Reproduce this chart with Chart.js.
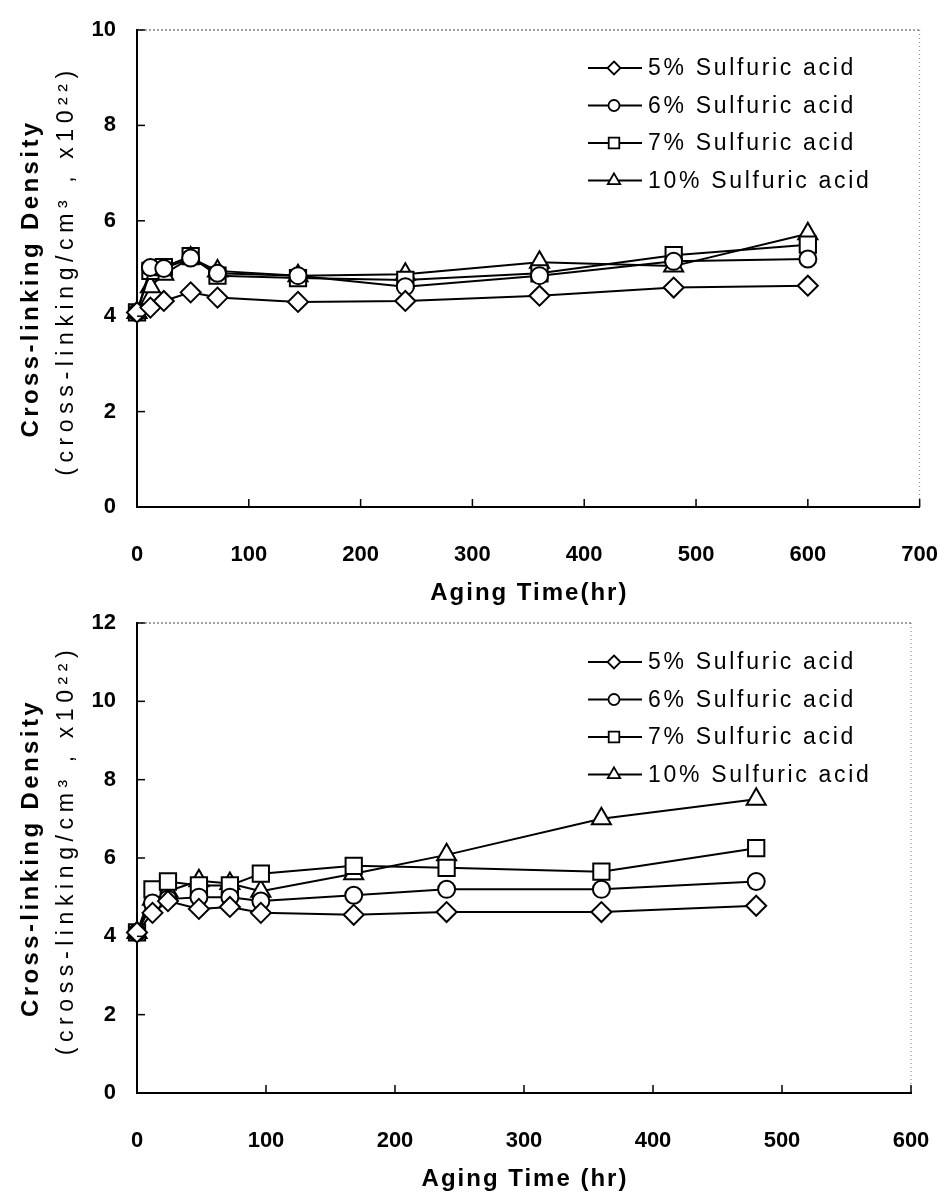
<!DOCTYPE html>
<html><head><meta charset="utf-8">
<script src="https://cdn.jsdelivr.net/npm/chart.js@4/dist/chart.umd.min.js"></script>
<style>
html,body{margin:0;padding:0;background:#fff;}
#wrap{position:relative;width:942px;height:1193px;overflow:hidden;background:#fff;}
canvas{position:absolute;left:0;}
</style></head><body>
<div id="wrap">
<canvas id="c1" width="942" height="620" style="top:0;width:942px;height:620px"></canvas>
<canvas id="c2" width="942" height="593" style="top:600px;width:942px;height:593px"></canvas>
</div>
<script>
// ---- data ----
const seriesLabels = ['5% Sulfuric acid', '6% Sulfuric acid', '7% Sulfuric acid', '10% Sulfuric acid'];
const markerStyles = ['rectRot', 'circle', 'rect', 'triangle'];

const topHours = [0, 12, 24, 48, 72, 144, 240, 360, 480, 600];
const top5  = [4.08, 4.18, 4.32, 4.50, 4.39, 4.30, 4.32, 4.43, 4.60, 4.64];
const top6  = [4.08, 5.02, 5.00, 5.22, 4.90, 4.85, 4.62, 4.85, 5.15, 5.20];
const top7  = [4.08, 4.95, 5.03, 5.26, 4.85, 4.80, 4.76, 4.90, 5.28, 5.50];
const top10 = [4.08, 4.62, 4.88, 5.22, 4.95, 4.85, 4.88, 5.13, 5.05, 5.73];

const bottomHours = [0, 12, 24, 48, 72, 96, 168, 240, 360, 480];
const bot5  = [4.10, 4.60, 4.90, 4.70, 4.75, 4.60, 4.55, 4.62, 4.62, 4.78];
const bot6  = [4.10, 4.85, 4.95, 5.00, 5.00, 4.90, 5.05, 5.20, 5.20, 5.40];
const bot7  = [4.10, 5.20, 5.40, 5.30, 5.30, 5.60, 5.80, 5.75, 5.65, 6.25];
const bot10 = [4.10, 4.95, 5.15, 5.42, 5.35, 5.15, 5.60, 6.08, 7.00, 7.50];

const topXMax = 700, topYMax = 10;
const bottomXMax = 600, bottomYMax = 12;
const xStep = 100, yStep = 2;

const yTitleLine1 = 'Cross-linking Density';
const yTitleLine2 = '(cross-linking/cm³ , x10²²)';
const xTitleTop = 'Aging Time(hr)';
const xTitleBottom = 'Aging Time (hr)';

// ---- styling ----
const FAM = '"Liberation Sans", Arial, sans-serif';
const markerRadius = {rectRot: 10, circle: 8.5, rect: 11.5, triangle: 11};

function drawMarker(ctx, style, x, y, r) {
  ctx.beginPath();
  if (style === 'rectRot') {
    ctx.moveTo(x, y - r); ctx.lineTo(x + r, y); ctx.lineTo(x, y + r); ctx.lineTo(x - r, y); ctx.closePath();
  } else if (style === 'circle') {
    ctx.arc(x, y, r, 0, Math.PI * 2);
  } else if (style === 'rect') {
    const s = r * Math.SQRT1_2; ctx.rect(x - s, y - s, 2 * s, 2 * s);
  } else if (style === 'triangle') {
    const a = Math.PI * 2 / 3;
    for (let k = 0; k < 3; k++) {
      const ang = -Math.PI / 2 + k * a;
      const px = x + Math.cos(ang) * r, py = y + Math.sin(ang) * r;
      if (k === 0) ctx.moveTo(px, py); else ctx.lineTo(px, py);
    }
    ctx.closePath();
  }
  ctx.fillStyle = '#fff'; ctx.fill();
  ctx.stroke();
}

const decorPlugin = {
  id: 'decor',
  afterDraw(chart, args, o) {
    const ctx = chart.ctx, ca = chart.chartArea;
    ctx.save();
    // top & right borders (dotted, as in the scan)
    ctx.strokeStyle = '#444'; ctx.lineWidth = 1.2; ctx.setLineDash([2, 2]);
    ctx.beginPath(); ctx.moveTo(ca.left, ca.top); ctx.lineTo(ca.right, ca.top); ctx.stroke();
    ctx.strokeStyle = '#777'; ctx.lineWidth = 1; ctx.setLineDash([1, 3]);
    ctx.beginPath(); ctx.moveTo(ca.right, ca.top); ctx.lineTo(ca.right, ca.bottom); ctx.stroke();
    ctx.setLineDash([]);
    // inward tick marks
    ctx.strokeStyle = '#000'; ctx.lineWidth = 1.5;
    const xs = chart.scales.x, ys = chart.scales.y;
    xs.ticks.forEach(t => {
      const px = xs.getPixelForValue(t.value);
      if (px <= ca.left + 1) return;
      ctx.beginPath(); ctx.moveTo(px, ca.bottom); ctx.lineTo(px, ca.bottom - 8); ctx.stroke();
    });
    ys.ticks.forEach(t => {
      const py = ys.getPixelForValue(t.value);
      if (py >= ca.bottom - 1) return;
      ctx.beginPath(); ctx.moveTo(ca.left, py); ctx.lineTo(ca.left + 8, py); ctx.stroke();
    });
    // x title
    ctx.fillStyle = '#000';
    ctx.font = 'bold 24px ' + FAM;
    ctx.letterSpacing = '2px';
    ctx.textAlign = 'center'; ctx.textBaseline = 'middle';
    ctx.fillText(o.xTitle, (ca.left + ca.right) / 2 + 1, ca.bottom + o.xTitleOffset);
    // y title (two lines)
    const cy = (ca.top + ca.bottom) / 2;
    ctx.save();
    ctx.translate(o.yTitleX1, cy + o.yShift1); ctx.rotate(-Math.PI / 2);
    ctx.font = 'bold 24px ' + FAM; ctx.letterSpacing = '3.4px';
    ctx.fillText(yTitleLine1, 0, 0);
    ctx.restore();
    ctx.save();
    ctx.translate(o.yTitleX2, cy + o.yShift2); ctx.rotate(-Math.PI / 2);
    ctx.font = '23px ' + FAM; ctx.letterSpacing = '5.6px';
    ctx.fillText(yTitleLine2, 0, 0);
    ctx.restore();
    // legend
    ctx.font = '23px ' + FAM; ctx.letterSpacing = '2.7px';
    ctx.textAlign = 'left';
    chart.data.datasets.forEach((ds, i) => {
      const y = ca.top + o.legendTop + i * o.legendGap;
      const x0 = o.legendX;
      ctx.strokeStyle = '#000'; ctx.lineWidth = 2;
      ctx.beginPath(); ctx.moveTo(x0, y); ctx.lineTo(x0 + 54, y); ctx.stroke();
      ctx.lineWidth = 1.8;
      drawMarker(ctx, ds.pointStyle, x0 + 26, y, ds.pointRadius * 0.65);
      ctx.fillStyle = '#000';
      ctx.fillText(ds.label, x0 + 60, y + 1);
    });
    ctx.restore();
  }
};

function makeDatasets(hours, arrays) {
  return arrays.map((vals, i) => ({
    label: seriesLabels[i],
    data: hours.map((h, k) => ({x: h, y: vals[k]})),
    borderColor: '#000', borderWidth: 2,
    pointStyle: markerStyles[i], pointRadius: markerRadius[markerStyles[i]],
    pointBackgroundColor: '#fff', pointBorderColor: '#000', pointBorderWidth: 2,
    fill: false, tension: 0, clip: false
  }));
}

function makeOptions(xMax, yMax, canvasH, area, deco) {
  const tickFont = {family: FAM, size: 22, weight: 'bold'};
  return {
    responsive: false, animation: false, devicePixelRatio: 1,
    layout: {padding: {left: 0, top: area.top, right: 942 - area.right, bottom: 0}},
    plugins: {legend: {display: false}, title: {display: false}, tooltip: {enabled: false}, decor: deco},
    scales: {
      x: {
        type: 'linear', min: 0, max: xMax,
        ticks: {stepSize: xStep, color: '#000', font: tickFont, padding: 4, maxRotation: 0},
        grid: {drawOnChartArea: false, drawTicks: true, tickLength: 31, tickColor: 'rgba(0,0,0,0)'},
        border: {display: true, color: '#000', width: 2},
        afterFit(s) { s.height = canvasH - area.bottom; }
      },
      y: {
        min: 0, max: yMax,
        ticks: {stepSize: yStep, color: '#000', font: tickFont, padding: 4},
        grid: {drawOnChartArea: false, drawTicks: true, tickLength: 17, tickColor: 'rgba(0,0,0,0)'},
        border: {display: true, color: '#000', width: 2},
        afterFit(s) { s.width = area.left; }
      }
    }
  };
}

new Chart(document.getElementById('c1'), {
  type: 'line',
  data: {datasets: makeDatasets(topHours, [top5, top6, top7, top10])},
  options: makeOptions(topXMax, topYMax, 620, {left: 137, top: 30, right: 921, bottom: 507},
    {xTitle: xTitleTop, xTitleOffset: 86, yTitleX1: 31, yTitleX2: 67, yShift1: 10, yShift2: 2,
     legendX: 588, legendTop: 38, legendGap: 37.5}),
  plugins: [decorPlugin]
});

new Chart(document.getElementById('c2'), {
  type: 'line',
  data: {datasets: makeDatasets(bottomHours, [bot5, bot6, bot7, bot10])},
  options: makeOptions(bottomXMax, bottomYMax, 593, {left: 137, top: 23, right: 911, bottom: 493},
    {xTitle: xTitleBottom, xTitleOffset: 86, yTitleX1: 31, yTitleX2: 67, yShift1: 0, yShift2: -8,
     legendX: 588, legendTop: 39, legendGap: 37.5}),
  plugins: [decorPlugin]
});
</script>
</body></html>
